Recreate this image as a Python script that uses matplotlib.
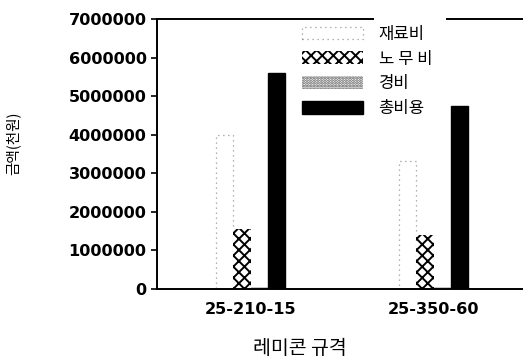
import matplotlib
matplotlib.use("Agg")
from matplotlib import pyplot as plt
import numpy as np

plt.rcParams['font.family'] = ['DejaVu Sans', 'Noto Sans CJK KR']
plt.rcParams['hatch.linewidth'] = 1.4

specs = ['25-210-15', '25-350-60']
series = ['재료비', '노 무 비', '경비', '총비용']
material = [4000000, 3320000]
labor = [1560000, 1400000]
expense = [50000, 50000]
total = [5610000, 4750000]

kr = 'Noto Sans CJK KR'

fig = plt.figure(figsize=(5.23, 3.63), dpi=100)
ax = fig.add_axes([157 / 523, 74 / 363, 366 / 523, 270 / 363])

x = np.arange(len(specs))
width = 0.095

b1 = ax.bar(x - 1.5 * width, material, width, color='white', edgecolor='#9a9a9a',
            linestyle=(0, (1, 3)), linewidth=0.9)
b2 = ax.bar(x - 0.5 * width, labor, width, color='white', edgecolor='black',
            hatch='xxx', linewidth=0)
b3 = ax.bar(x + 0.5 * width, expense, width, color='white', edgecolor='#555555',
            hatch='......', linewidth=0)
b4 = ax.bar(x + 1.5 * width, total, width, color='black', edgecolor='black')

ax.set_xlim(-0.511, 1.489)
ax.set_ylim(0, 7000000)
ax.set_yticks(np.arange(0, 7000001, 1000000))
ax.set_yticklabels([str(v) for v in range(0, 7000001, 1000000)])
ax.set_xticks(x)
ax.set_xticklabels(specs)
ax.tick_params(axis='y', direction='out', length=4.5, width=1.2, pad=3, labelsize=11.6)
ax.tick_params(axis='x', length=0, pad=9, labelsize=11.6)
for lab in ax.get_xticklabels() + ax.get_yticklabels():
    lab.set_fontweight('bold')

ax.spines['right'].set_visible(False)
ax.spines['top'].set_visible(False)
ax.spines['left'].set_linewidth(1.4)
ax.spines['bottom'].set_linewidth(1.4)
# broken top border, as in the scan
ax.plot([0, 0.59], [1, 1], transform=ax.transAxes, color='black', lw=1.4, clip_on=False)
ax.plot([0.792, 1], [1, 1], transform=ax.transAxes, color='black', lw=1.4, clip_on=False)

ax.set_ylabel('금액(천원)', family=[kr, 'DejaVu Sans'], fontsize=10.5)
ax.yaxis.set_label_coords(-0.372, 0.54)
fig.text(300 / 523, 1 - 349 / 363, '레미콘 규격', family=[kr, 'DejaVu Sans'],
         fontsize=14, ha='center', va='center')

leg = ax.legend((b1[0], b2[0], b3[0], b4[0]), series, loc='upper left',
                bbox_to_anchor=(0.396, 0.975), frameon=False, borderpad=0,
                borderaxespad=0, handlelength=3.65, handleheight=0.8,
                handletextpad=0.95, labelspacing=0.47,
                prop={'family': [kr, 'DejaVu Sans'], 'size': 12})

fig.savefig('out.png', dpi=100)
